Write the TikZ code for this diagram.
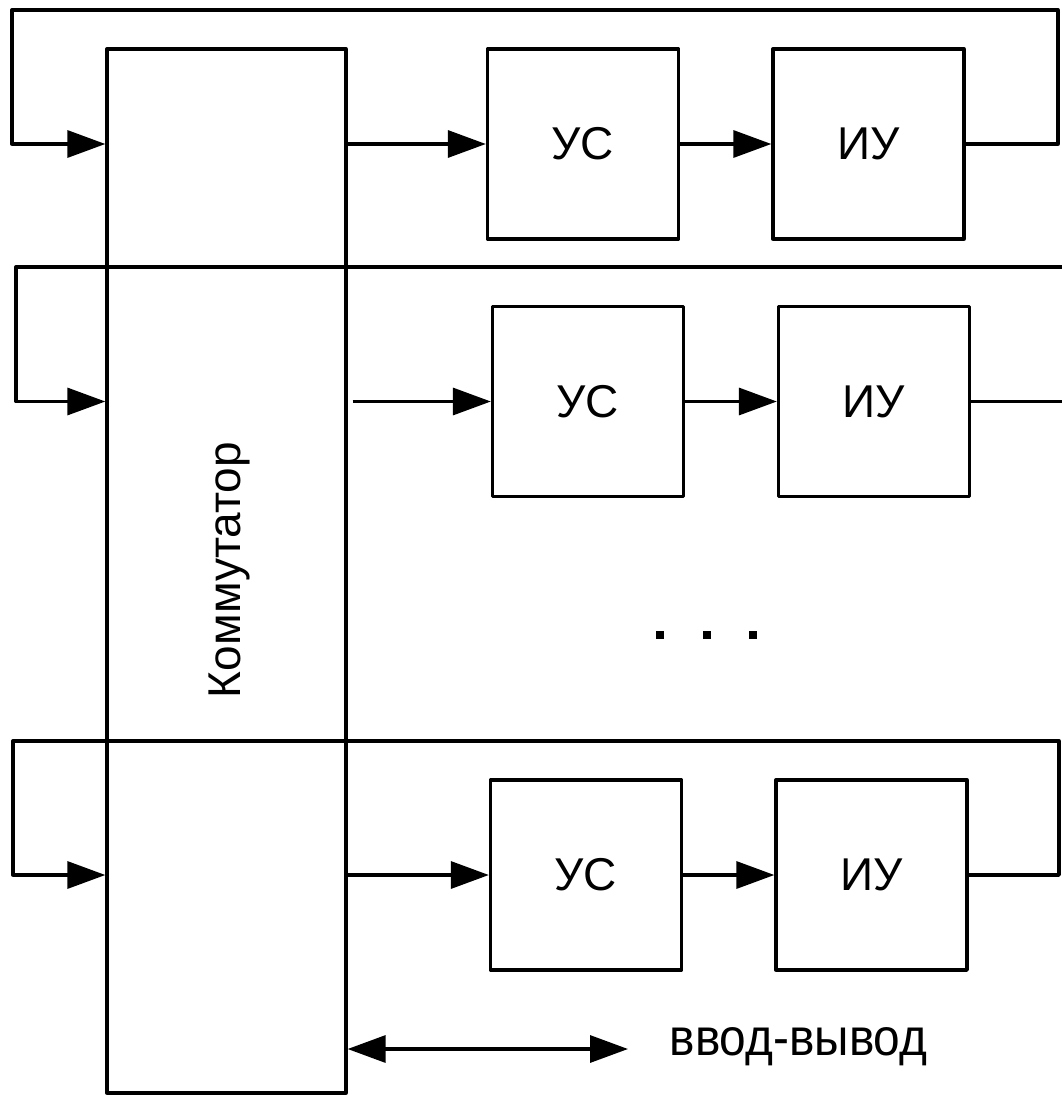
\documentclass[tikz,border=0pt]{standalone}
\usepackage{fontspec}
\setmainfont{Liberation Sans}
\newfontfamily\narrowsans[FakeStretch=0.92]{Liberation Sans}
\usetikzlibrary{arrows.meta}
\begin{document}
\begin{tikzpicture}[x=1pt,y=-1pt,
  line width=3.3pt, line join=round,
  blk/.style={draw, minimum width=191pt, minimum height=190pt, inner sep=0pt, font=\fontsize{46}{50}\selectfont},
  lbl/.style={font=\fontsize{46}{50}\selectfont, inner sep=0pt},
  arr/.style={-{Triangle[length=38pt,width=27pt]}},
  dbl/.style={{Triangle[length=38pt,width=27pt]}-{Triangle[length=38pt,width=27pt]}},
  dotsq/.style={fill, minimum size=8pt, inner sep=0pt, draw=none}]
\useasboundingbox (0,0) rectangle (1062,1095);
\fill[white] (0,0) rectangle (1062,1095);

% commutator
\node[draw, minimum width=239pt, minimum height=1044pt, inner sep=0pt] (com) at (226.5,571) {};
\node[lbl, rotate=90] (comlabel) at (229,570) {Коммутатор};

% row 1
\node[blk] (us1) at (583,144) {УС};
\node[blk] (iu1) at (868.5,144) {ИУ};
\draw[arr] (com.east |- us1.west) -- (us1.west);
\draw[arr] (us1.east) -- (iu1.west);
\coordinate (r1a) at (1058,144);
\coordinate (r1b) at (1058,10);
\coordinate (r1c) at (12,10);
\coordinate (r1d) at (12,144);
\draw[arr] (iu1.east) -- (r1a) -- (r1b) -- (r1c) -- (r1d) -- (com.west |- r1d);

% row 2
\node[blk] (us2) at (588,401.5) {УС};
\node[blk] (iu2) at (874,401.5) {ИУ};
\draw[arr] ([xshift=5pt]com.east |- us2.west) -- (us2.west);
\draw[arr] (us2.east) -- (iu2.west);
\coordinate (r2out) at (1062,401.5);
\draw (iu2.east) -- (r2out);
\coordinate (r2a) at (1062,267);
\coordinate (r2b) at (16,267);
\coordinate (r2c) at (16,401.5);
\draw[arr] (r2a) -- (r2b) -- (r2c) -- (com.west |- r2c);

% dots
\node[dotsq] (d1) at (660,635) {};
\node[dotsq] (d2) at (707,635) {};
\node[dotsq] (d3) at (753,635) {};

% row 3
\node[blk] (us3) at (586,875) {УС};
\node[blk] (iu3) at (871.5,875) {ИУ};
\draw[arr] (com.east |- us3.west) -- (us3.west);
\draw[arr] (us3.east) -- (iu3.west);
\coordinate (r3a) at (1059,875);
\coordinate (r3b) at (1059,741);
\coordinate (r3c) at (13,741);
\coordinate (r3d) at (13,875);
\draw[arr] (iu3.east) -- (r3a) -- (r3b) -- (r3c) -- (r3d) -- (com.west |- r3d);

% input-output
\coordinate (io) at (628,1049);
\draw[dbl] (com.east |- io) -- (io);
\node[font=\narrowsans\fontsize{52}{56}\selectfont, inner sep=0pt, anchor=west] (iolabel) at (668,1047) {ввод-вывод};
\end{tikzpicture}
\end{document}
